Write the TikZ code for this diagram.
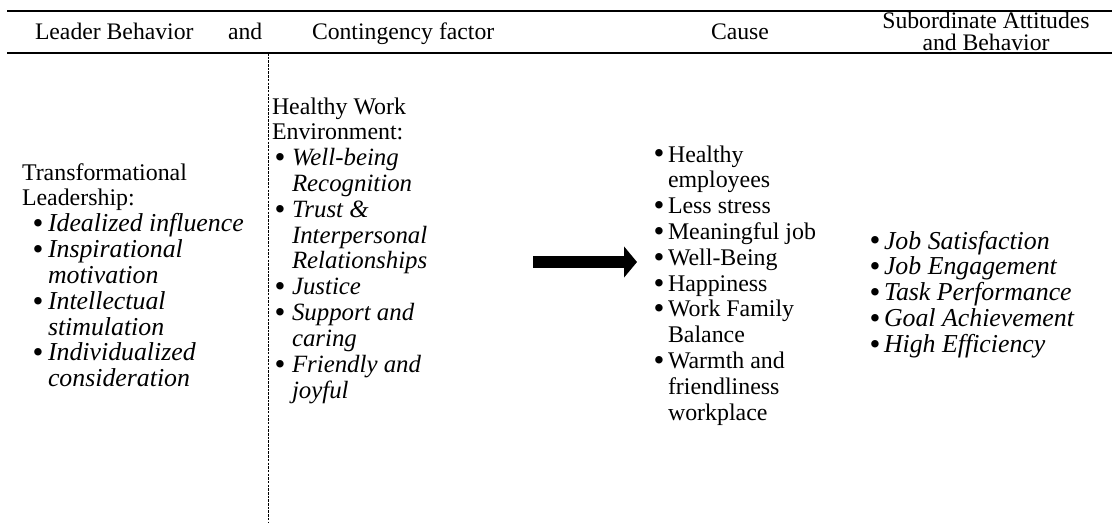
\documentclass[tikz,border=0pt]{standalone}
\usepackage{fontspec}
\setmainfont{Liberation Serif}
\usetikzlibrary{arrows.meta}
\newlength\pxu
\setlength\pxu{0.515pt}
\newcommand{\bul}[2]{\makebox[#2\pxu][l]{\hspace{#1\pxu}\raisebox{-0.08em}{\scalebox{1.3}{\textbullet}}}}
\newcommand{\ia}[1]{{\fontsize{13.3}{13.3}\selectfont\itshape #1}}
\newcommand{\ib}[1]{{\fontsize{12.8}{13.3}\selectfont\itshape #1}}
\begin{document}
\begin{tikzpicture}[x=0.515pt,y=-0.515pt,
  txt/.style={inner sep=0pt, outer sep=0pt, anchor=base west, font=\fontsize{12.3}{13.3}\selectfont},
  head/.style={inner sep=0pt, outer sep=0pt, font=\fontsize{12.2}{13.3}\selectfont},
  rule/.style={line width=1pt},
  sep/.style={line width=0.5pt, dash pattern=on 1.3pt off 0.6pt},
  bigarrow/.style={line width=6.2pt, -{Triangle[length=6.6pt, width=15.5pt]}}]
\useasboundingbox (0,0) rectangle (1112,522);
% header rules
\coordinate (tl) at (7,11);
\coordinate (tr) at (1112,11);
\coordinate (bl) at (7,53);
\coordinate (br) at (1112,53);
\draw[rule] (tl) -- (tr);
\draw[rule] (bl) -- (br);
% vertical separator
\coordinate (vt) at (268,53);
\coordinate (vb) at (268,522);
\draw[sep] (vt) -- (vb);
% header texts
\node[head, anchor=base west] (h1) at (35,39) {Leader Behavior};
\node[head, anchor=base west] (h1b) at (228,39) {and};
\node[head, anchor=base west] (h2) at (312,39) {Contingency factor};
\node[head, anchor=base] (h3) at (740,39) {Cause};
\node[head, anchor=base] (h4a) at (986,28) {Subordinate Attitudes};
\node[head, anchor=base] (h4b) at (986,50.5) {and Behavior};
% column 1
\node[txt] (lead) at (22,180) {\begin{tabular}[t]{@{}l@{}l@{}}
\multicolumn{2}{@{}l@{}}{Transformational}\\
\multicolumn{2}{@{}l@{}}{Leadership:}\\
\bul{10.7}{26} & \ia{Idealized influence}\\
\bul{10.7}{26} & \ia{Inspirational}\\
 & \ia{motivation}\\
\bul{10.7}{26} & \ia{Intellectual}\\
 & \ia{stimulation}\\
\bul{10.7}{26} & \ia{Individualized}\\
 & \ia{consideration}
\end{tabular}};
% column 2
\node[txt] (env) at (272,114) {\begin{tabular}[t]{@{}l@{}l@{}}
\multicolumn{2}{@{}l@{}}{Healthy Work}\\
\multicolumn{2}{@{}l@{}}{Environment:}\\
\bul{2.7}{20} & \ib{Well-being}\\
 & \ib{Recognition}\\
\bul{2.7}{20} & \ib{Trust \&}\\
 & \ib{Interpersonal}\\
 & \ib{Relationships}\\
\bul{2.7}{20} & \ib{Justice}\\
\bul{2.7}{20} & \ib{Support and}\\
 & \ib{caring}\\
\bul{2.7}{20} & \ib{Friendly and}\\
 & \ib{joyful}
\end{tabular}};
% arrow
\coordinate (arrS) at (533,262);
\coordinate (arrE) at (637,262);
\draw[bigarrow] (arrS) -- (arrE);
% column 3
\node[txt] (cause) at (653.7,162) {\begin{tabular}[t]{@{}l@{}l@{}}
\bul{0}{14.3} & Healthy\\
 & employees\\
\bul{0}{14.3} & Less stress\\
\bul{0}{14.3} & Meaningful job\\
\bul{0}{14.3} & Well-Being\\
\bul{0}{14.3} & Happiness\\
\bul{0}{14.3} & Work Family\\
 & Balance\\
\bul{0}{14.3} & Warmth and\\
 & friendliness\\
 & workplace
\end{tabular}};
% column 4
\node[txt] (result) at (869.7,249) {\begin{tabular}[t]{@{}l@{}l@{}}
\bul{0}{14.3} & \ia{Job Satisfaction}\\
\bul{0}{14.3} & \ia{Job Engagement}\\
\bul{0}{14.3} & \ia{Task Performance}\\
\bul{0}{14.3} & \ia{Goal Achievement}\\
\bul{0}{14.3} & \ia{High Efficiency}
\end{tabular}};
\end{tikzpicture}
\end{document}
